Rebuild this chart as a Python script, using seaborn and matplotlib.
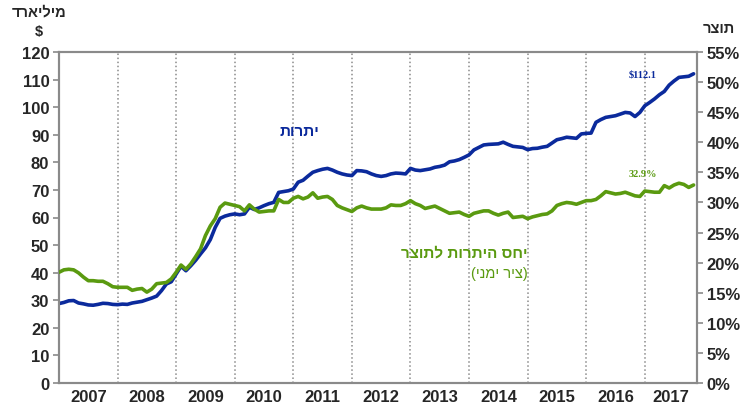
import matplotlib
matplotlib.use('Agg')
import matplotlib.pyplot as plt
import seaborn as sns
import numpy as np
import pandas as pd
from matplotlib.ticker import MultipleLocator, PercentFormatter

# monthly data, Jan 2007 - Nov 2017
years = list(range(2007, 2018))

# foreign exchange reserves, billion $
reserves = [
    28.8, 29.2, 29.8, 29.9, 29.0, 28.7, 28.3, 28.2, 28.5, 28.9, 28.8, 28.5,  # 2007
    28.4, 28.6, 28.5, 29.0, 29.3, 29.6, 30.2, 30.8, 31.5, 33.5, 35.9, 36.7,  # 2008
    39.5, 42.3, 40.7, 42.5, 44.5, 46.8, 49.0, 52.0, 56.4, 59.7, 60.5, 61.0,  # 2009
    61.3, 61.0, 61.3, 63.7, 62.9, 63.5, 64.3, 65.0, 65.5, 69.1, 69.4, 69.7,  # 2010
    70.3, 72.8, 73.5, 75.0, 76.4, 77.0, 77.5, 77.8, 77.2, 76.4, 75.8, 75.4,  # 2011
    75.2, 77.0, 76.9, 76.6, 75.8, 75.2, 74.9, 75.2, 75.8, 76.1, 76.0, 75.8,  # 2012
    77.8, 77.2, 77.0, 77.3, 77.6, 78.2, 78.5, 79.0, 80.2, 80.5, 81.0, 81.8,  # 2013
    82.7, 84.5, 85.4, 86.3, 86.5, 86.6, 86.7, 87.3, 86.5, 85.8, 85.6, 85.4,  # 2014
    84.6, 85.0, 85.1, 85.5, 85.8, 87.0, 88.2, 88.6, 89.1, 88.9, 88.7, 90.3,  # 2015
    90.5, 90.6, 94.5, 95.5, 96.3, 96.6, 96.9, 97.5, 98.1, 97.9, 96.6, 98.1,  # 2016
    100.5, 101.7, 103.0, 104.5, 105.7, 108.0, 109.5, 110.8, 111.0, 111.2, 112.1,  # 2017
]

# reserves to GDP ratio, percent (right axis)
ratio = [
    18.4, 18.8, 18.9, 18.8, 18.3, 17.6, 17.0, 17.0, 16.9, 16.9, 16.5, 16.0,
    15.9, 15.9, 15.9, 15.4, 15.6, 15.7, 15.1, 15.6, 16.5, 16.6, 16.7, 17.3,
    18.4, 19.6, 18.9, 19.8, 21.0, 22.3, 24.5, 26.1, 27.3, 29.2, 29.9, 29.7,
    29.5, 29.3, 28.6, 29.6, 28.9, 28.4, 28.5, 28.6, 28.6, 30.5, 30.0, 30.0,
    30.7, 31.0, 30.6, 30.9, 31.6, 30.7, 30.9, 31.0, 30.5, 29.5, 29.1, 28.8,
    28.5, 29.1, 29.4, 29.1, 28.9, 28.9, 28.9, 29.1, 29.6, 29.5, 29.5, 29.8,
    30.3, 29.8, 29.5, 29.0, 29.2, 29.4, 29.0, 28.6, 28.2, 28.3, 28.4, 28.0,
    27.7, 28.2, 28.4, 28.6, 28.6, 28.2, 27.9, 28.2, 28.4, 27.5, 27.6, 27.7,
    27.3, 27.6, 27.8, 28.0, 28.1, 28.6, 29.5, 29.8, 30.0, 29.9, 29.7, 30.0,
    30.3, 30.3, 30.5, 31.1, 31.8, 31.6, 31.4, 31.5, 31.7, 31.4, 31.1, 31.0,
    31.9, 31.8, 31.7, 31.7, 32.8, 32.4, 32.9, 33.2, 33.0, 32.5, 32.9,
]

BLUE = '#0b2a9c'
GREEN = '#5a9a10'
GRAY = '#8a8a8a'


def rtl(s):
    # matplotlib has no bidi support: flip to visual order
    return s[::-1].translate(str.maketrans('()', ')('))


sns.set_style('white')
plt.rcParams['font.family'] = ['Liberation Sans', 'DejaVu Sans']

df = pd.DataFrame({'t': 2007 + np.arange(len(reserves)) / 12,
                   'reserves': reserves, 'ratio': ratio})
x_end = 2007 + 130.7 / 12

fig = plt.figure(figsize=(7.5, 4.1), dpi=100)
ax = fig.add_axes([59 / 750, 26 / 410, 638 / 750, 331 / 410])
ax2 = ax.twinx()

sns.lineplot(data=df, x='t', y='reserves', ax=ax, color=BLUE, linewidth=2.6, zorder=3)
sns.lineplot(data=df, x='t', y='ratio', ax=ax2, color=GREEN, linewidth=2.6, zorder=3)

ax.set_xlim(2007, x_end)
ax.set_ylim(0, 120)
ax2.set_ylim(0, 55)
ax.yaxis.set_major_locator(MultipleLocator(10))
ax2.yaxis.set_major_locator(MultipleLocator(5))
ax2.yaxis.set_major_formatter(PercentFormatter(decimals=0))

# year separators
for y in years[1:]:
    ax.axvline(y, color=GRAY, linestyle=':', linewidth=1.1, zorder=1)

# year labels centred in each year (last year is partial)
centers = [y + 0.5 for y in years[:-1]] + [(years[-1] + x_end) / 2]
ax.set_xticks(centers)
ax.set_xticklabels([str(y) for y in years])

for a in (ax, ax2):
    a.set_xlabel('')
    a.set_ylabel('')
    for sp in a.spines.values():
        sp.set_color(GRAY)
        sp.set_linewidth(1.5)
    a.tick_params(axis='y', length=4, width=1.2, color=GRAY, labelsize=12, pad=3)
    for lab in a.get_yticklabels():
        lab.set_fontweight('bold')
ax.tick_params(axis='x', length=0, labelsize=12, pad=4)
for lab in ax.get_xticklabels():
    lab.set_fontweight('bold')
ax.tick_params(axis='y', left=True)
ax2.tick_params(axis='y', right=True)

# series labels
ax.text(2011.1, 91.5, rtl('יתרות'), color=BLUE, fontsize=11, fontweight='bold',
        ha='center', va='center')
ax.text(2015.0, 47.3, rtl('יחס היתרות לתוצר'), color=GREEN, fontsize=11,
        fontweight='bold', ha='right', va='center')
ax.text(2015.0, 40.0, rtl('(ציר ימני)'), color=GREEN, fontsize=10.5,
        ha='right', va='center')

# end values
ax.text(2016.97, 112, r'\$112.1', color=BLUE, fontsize=7.5, fontweight='bold',
        family='Liberation Serif', ha='center', va='center')
ax.text(2016.97, 75.8, '32.9%', color=GREEN, fontsize=7.5, fontweight='bold',
        family='Liberation Serif', ha='center', va='center')

# axis titles
fig.text(39 / 750, 1 - 12 / 410, rtl('מיליארד'), fontsize=10.5, fontweight='bold',
         ha='center', va='center')
fig.text(39 / 750, 1 - 32 / 410, '$', fontsize=10.5, fontweight='bold',
         ha='center', va='center')
fig.text(719 / 750, 1 - 29 / 410, rtl('תוצר'), fontsize=10.5, fontweight='bold',
         ha='center', va='center')

fig.savefig('out.png', dpi=100)
